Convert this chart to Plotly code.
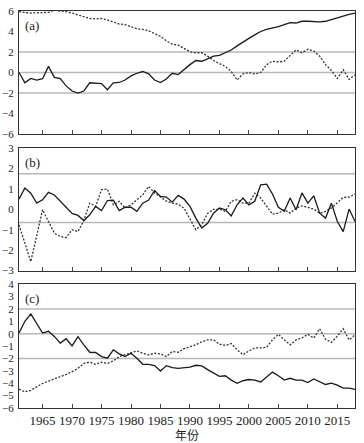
import plotly.graph_objects as go

years = list(range(1961, 2019))

# Panel (a)
a_solid = [0.0, -1.0, -0.57, -0.73, -0.6, 0.6, -0.47, -0.6, -1.3, -1.8,
           -2.0, -1.8, -1.0, -1.07, -1.07, -1.67, -1.0, -0.97, -0.73, -0.33,
           -0.07, 0.1, -0.13, -0.73, -0.97, -0.63, -0.07, -0.2, 0.33, 0.77,
           1.17, 1.1, 1.33, 1.6, 1.67, 1.93, 2.2, 2.6, 3.0, 3.33,
           3.67, 4.0, 4.2, 4.33, 4.47, 4.67, 4.87, 4.83, 5.0, 5.0,
           4.93, 4.93, 5.0, 5.17, 5.4, 5.53, 5.67, 5.8]
a_dash = [5.93, 5.83, 5.8, 5.83, 5.83, 5.87, 6.07, 6.03, 5.93, 5.8,
          5.6, 5.4, 5.27, 5.23, 5.27, 5.13, 4.93, 4.73, 4.67, 4.47,
          4.27, 4.2, 4.07, 3.8, 3.53, 3.1, 2.77, 2.67, 2.33, 2.03,
          1.93, 1.93, 1.6, 1.17, 0.87, 0.6, 0.1, -0.73, -0.13, 0.0,
          -0.13, 0.0, 0.77, 1.1, 1.03, 1.1, 1.67, 2.2, 1.93, 2.27,
          2.1, 1.6, 0.77, 0.2, -0.57, 0.27, -0.67, -0.23]

# Panel (b)
b_solid = [0.5, 1.04, 0.79, 0.3, 0.47, 0.83, 0.7, 0.4, 0.15, -0.2,
           -0.3, -0.55, -0.27, 0.14, -0.06, 0.43, 0.45, -0.06, 0.1, 0.1,
           -0.1, 0.3, 0.45, 0.92, 0.63, 0.6, 0.35, 0.68, 0.5, 0.14,
           -0.43, -0.92, -0.68, -0.19, 0.06, -0.02, -0.32, 0.22, 0.55, 0.22,
           0.39, 1.2, 1.23, 0.75, 0.1, -0.1, 0.55, -0.02, 0.8, 0.3,
           0.66, -0.19, -0.43, 0.3, -0.6, -1.09, 0.01, -0.6]
b_dash = [-0.76, -1.65, -2.56, -1.3, -0.02, -0.6, -1.17, -1.33, -1.38, -1.0,
          -1.09, -0.55, 0.3, 0.14, 0.96, 0.99, 0.22, 0.39, 0.06, 0.22,
          0.47, 0.71, 1.12, 0.8, 0.6, 0.4, 0.3, 0.25, 0.05, -0.5,
          -1.0, -0.75, -0.2, 0.0, 0.0, -0.1, 0.39, 0.47, 0.3, 0.3,
          0.79, 0.55, 0.14, -0.24, -0.19, -0.02, -0.19, 0.06, 0.17, 0.1,
          0.01, -0.19, -0.1, 0.06, 0.3, 0.58, 0.6, 0.75]

# Panel (c)
c_solid = [0.05, 1.0, 1.6, 0.87, 0.05, 0.19, -0.22, -0.76, -0.41, -0.98,
           -0.24, -0.9, -1.5, -1.52, -1.85, -1.98, -1.3, -1.63, -1.85, -1.58,
           -1.98, -2.47, -2.47, -2.58, -3.02, -2.58, -2.74, -2.8, -2.75, -2.7,
           -2.55, -2.6, -2.9, -3.2, -3.45, -3.4, -3.75, -4.0, -3.8, -3.7,
           -3.75, -3.9, -3.5, -3.1, -3.4, -3.75, -3.6, -3.75, -3.75, -3.95,
           -3.65, -3.9, -4.1, -4.0, -4.15, -4.4, -4.4, -4.5]
c_dash = [-4.48, -4.7, -4.57, -4.3, -4.02, -3.83, -3.67, -3.48, -3.29, -3.07,
          -2.8, -2.4, -2.3, -2.47, -2.3, -2.4, -2.2, -1.85, -1.71, -1.58,
          -1.39, -1.58, -1.71, -1.58, -1.63, -1.85, -1.44, -1.5, -1.2, -1.05,
          -0.9, -0.65, -0.5, -0.5, -0.85, -0.95, -0.8, -1.3, -1.7, -1.4,
          -1.15, -1.15, -1.1, -0.5, -0.05, -0.5, -0.9, -0.5, -0.35, -0.05,
          -0.35, 0.4, -0.45, -0.7, -0.2, 0.4, -0.5, -0.1]

x_ticks = [1965, 1970, 1975, 1980, 1985, 1990, 1995, 2000, 2005, 2010, 2015]
panel_labels = ["(a)", "(b)", "(c)"]
a_yticks = [6, 4, 2, 0, -2, -4, -6]
b_yticks = [3, 2, 1, 0, -1, -2, -3]
c_yticks = [4, 3, 2, 1, 0, -1, -2, -3, -4, -5, -6]
a_grid = [2, 0, -2]
b_grid = [1.74, -0.64]
c_grid = [2, 0, -2]

SERIF = "Liberation Serif, Times New Roman, serif"
solid_style = dict(color="#1a1a1a", width=1.3)
dash_style = dict(color="#333333", width=1.3, dash="2px,1.6px")

fig = go.Figure()
panels = [
    ("x", "y", a_solid, a_dash),
    ("x2", "y2", b_solid, b_dash),
    ("x3", "y3", c_solid, c_dash),
]
for xa, ya, s, d in panels:
    fig.add_trace(go.Scatter(x=years, y=d, mode="lines", line=dash_style,
                             xaxis=xa, yaxis=ya, showlegend=False))
    fig.add_trace(go.Scatter(x=years, y=s, mode="lines", line=solid_style,
                             xaxis=xa, yaxis=ya, showlegend=False))

shapes = []
for ya, xa, grid in [("y", "x", a_grid), ("y2", "x2", b_grid), ("y3", "x3", c_grid)]:
    for g in grid:
        shapes.append(dict(type="line", xref=xa + " domain", x0=0, x1=1,
                           yref=ya, y0=g, y1=g, layer="below",
                           line=dict(color="#b8b8b8", width=1.5)))

xcommon = dict(range=[1961, 2018], tickvals=x_ticks, ticks="inside", ticklen=4,
               tickcolor="#444", showline=True, linecolor="#333", linewidth=1,
               mirror=True, showgrid=False, zeroline=False, automargin=False,
               tickfont=dict(family=SERIF, size=13, color="#222"))
ycommon = dict(showline=True, linecolor="#333", linewidth=1, mirror=True,
               showgrid=False, zeroline=False, ticks="", automargin=False,
               tickfont=dict(family=SERIF, size=11, color="#222"),
               ticklabelstandoff=2)

fig.update_layout(
    width=364, height=443,
    margin=dict(l=19, r=9, t=11, b=35),
    paper_bgcolor="white", plot_bgcolor="white",
    shapes=shapes,
    xaxis=dict(**xcommon, domain=[0, 1], anchor="y", showticklabels=False),
    xaxis2=dict(**xcommon, domain=[0, 1], anchor="y2", showticklabels=False),
    xaxis3=dict(**xcommon, domain=[0, 1], anchor="y3", showticklabels=True),
    yaxis=dict(**ycommon, domain=[0.69, 1.0], range=[-6, 6], tickvals=a_yticks, anchor="x"),
    yaxis2=dict(**ycommon, domain=[0.346, 0.655], range=[-3, 3], tickvals=b_yticks, anchor="x2"),
    yaxis3=dict(**ycommon, domain=[0.0, 0.312], range=[-6, 4], tickvals=c_yticks, anchor="x3"),
)

for lab, xa, ya in zip(panel_labels, ["x", "x2", "x3"], ["y", "y2", "y3"]):
    fig.add_annotation(text=lab, xref=xa + " domain", yref=ya + " domain",
                       x=0.013, y=0.96, xanchor="left", yanchor="top",
                       showarrow=False, font=dict(family=SERIF, size=13, color="#222"))

fig.add_annotation(text="年份", xref="paper", yref="paper", x=0.5, y=-0.068,
                   xanchor="center", yanchor="middle", showarrow=False,
                   font=dict(family="Noto Sans CJK SC", size=12, color="#222"))

fig.write_html("out.html", config={"displayModeBar": False},
               post_script="document.body.style.margin='0';document.body.style.padding='0';")
